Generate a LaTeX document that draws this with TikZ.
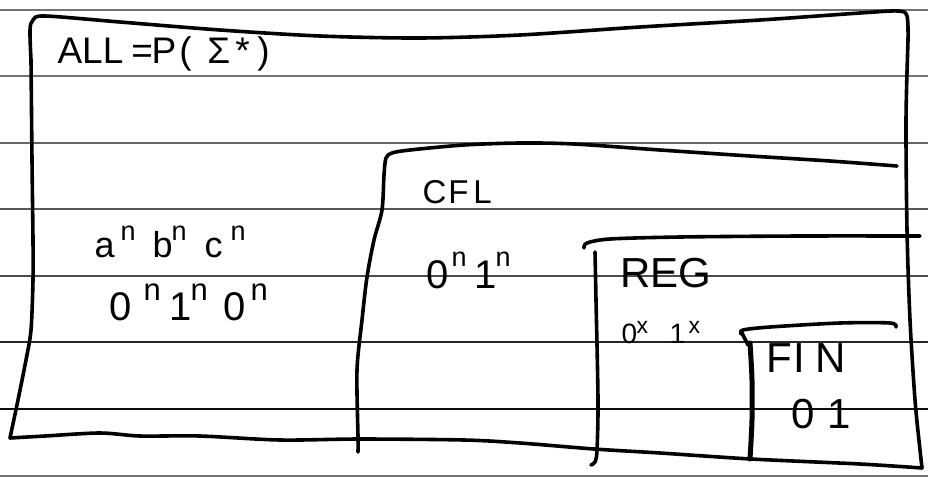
\documentclass[tikz,border=0pt]{standalone}
\usepackage{fontspec}
\setmainfont{Liberation Sans}
% place #2 at horizontal offset #1 from the node origin
\newcommand\pos[2]{\rlap{\hspace*{#1}#2}}
% raised small letter: raise, size, text
\newcommand\hsup[3]{\raisebox{#1}{\fontsize{#2}{#2}\selectfont #3}}
\begin{document}
\begin{tikzpicture}[x=1pt,y=-1pt,
  rule/.style={line width=1.8pt},
  hand/.style={line width=3.6pt, line cap=round, line join=round},
  lbl/.style={anchor=base west, inner sep=0pt, outer sep=0pt}]
\useasboundingbox (0,0) rectangle (928,477);
\fill[white] (0,0) rectangle (928,477);
% ruled paper lines
\draw[rule, black!55] (0,10) -- (928,10);
\draw[rule, black!55] (0,76) -- (928,76);
\draw[rule, black!60] (0,143) -- (928,143);
\draw[rule, black!65] (0,209) -- (928,209);
\draw[rule, black!70] (0,276) -- (928,276);
\draw[rule, black!85] (0,342) -- (928,342);
\draw[rule, black!95] (0,409) -- (928,409);
\draw[rule, black!55] (0,476) -- (928,476);
% ALL box
\draw[hand] plot[smooth, tension=0.5] coordinates {(31,60)(30,30)(33,20)(45,16)(120,22)(220,30)(320,36)(420,38)(520,35)(640,27)(760,20)(860,13)(898,11)(907,16)(908,40)};
\draw[hand] plot[smooth, tension=0.5] coordinates {(908,40)(906,120)(907,230)(910,320)(915,400)(920,450)(922,468)};
\draw[hand] plot[smooth, tension=0.5] coordinates {(922,468)(860,464)(751,459)(660,453)(594,449)(520,443)(464,440)(360,439)(280,440)(200,436)(140,436)(100,433)(45,436)(10,438)};
\draw[hand] plot[smooth, tension=0.5] coordinates {(10,438)(18,400)(26,360)(31,330)(33,280)(33,240)(32,160)(31,60)};
% CFL box
\draw[hand] plot[smooth, tension=0.5] coordinates {(897,166)(830,161)(750,156)(660,150)(574,144)(520,143)(464,145)(410,150)(392,153)(386,158)(384,175)(382,210)(374,240)(367,277)(362,320)(357,370)(358,437)(358,452)};
% REG box
\draw[hand] plot[smooth, tension=0.5] coordinates {(584,248)(587,243)(610,239)(680,237)(800,236)(920,236)};
\draw[hand] plot[smooth, tension=0.5] coordinates {(595,252)(596,300)(598,400)(597,450)(595,462)(591,465)};
% FIN box
\draw[hand] plot[smooth, tension=0.5] coordinates {(741,334)(743,330)(770,327)(840,323)(890,323)(896,327)};
\draw[hand] (741,331) -- (748,345);
\draw[hand, line width=5pt] plot[smooth, tension=0.5] coordinates {(750,343)(752,380)(752,420)(750,459)};
% labels
\node[lbl, font=\fontsize{37}{42}\selectfont] (all) at (57,63)
  {\pos{0pt}{ALL}\pos{74pt}{=}\pos{94pt}{P}\pos{122pt}{(}\pos{150pt}{Σ}\pos{178pt}{*}\pos{200pt}{)}};
\node[lbl, font=\fontsize{33}{38}\selectfont] (cfl) at (422,203)
  {\pos{0pt}{C}\pos{26pt}{F}\pos{51pt}{L}};
\node[lbl, font=\fontsize{36}{40}\selectfont] (abc) at (94,257)
  {\pos{0pt}{a}\pos{26pt}{\hsup{17pt}{27}{n}}\pos{58pt}{b}\pos{77pt}{\hsup{17pt}{27}{n}}\pos{110pt}{c}\pos{136pt}{\hsup{17pt}{27}{n}}};
\node[lbl, font=\fontsize{40}{44}\selectfont] (ooo) at (109,320)
  {\pos{0pt}{0}\pos{34pt}{\hsup{20pt}{31}{n}}\pos{60pt}{1}\pos{81pt}{\hsup{20pt}{31}{n}}\pos{114pt}{0}\pos{141pt}{\hsup{20pt}{31}{n}}};
\node[lbl, font=\fontsize{40}{44}\selectfont] (oncfl) at (426,288)
  {\pos{0pt}{0}\pos{25pt}{\hsup{22pt}{27}{n}}\pos{48pt}{1}\pos{69pt}{\hsup{22pt}{27}{n}}};
\node[lbl, font=\fontsize{42}{46}\selectfont] (reg) at (620,287) {REG};
\node[lbl, font=\fontsize{28}{32}\selectfont] (oxix) at (621,343)
  {\pos{0pt}{0}\pos{15pt}{\hsup{10pt}{23}{x}}\pos{48pt}{1}\pos{67pt}{\hsup{10pt}{23}{x}}};
\node[lbl, font=\fontsize{42}{46}\selectfont] (fin) at (766,372)
  {\pos{0pt}{F}\pos{27pt}{I}\pos{49pt}{N}};
\node[lbl, font=\fontsize{42}{46}\selectfont] (zo) at (791,428)
  {\pos{0pt}{0}\pos{36pt}{1}};
\end{tikzpicture}
\end{document}
